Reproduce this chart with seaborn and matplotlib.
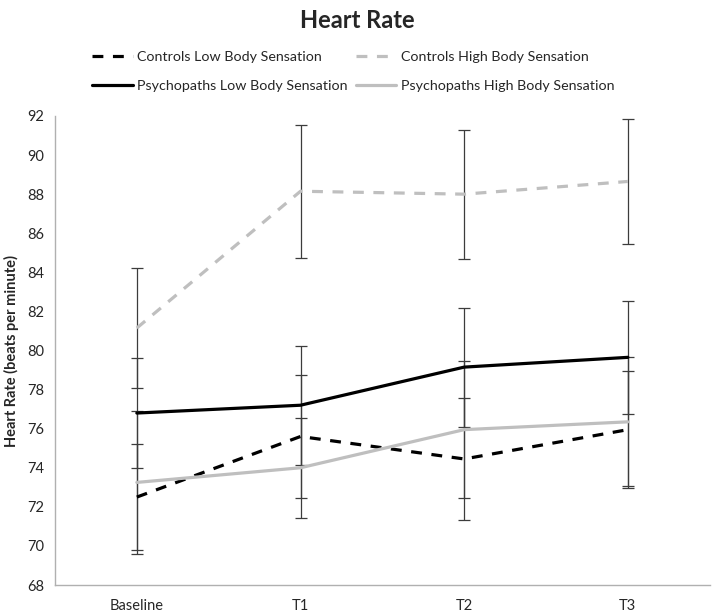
import pandas as pd
import matplotlib
matplotlib.use("Agg")
import matplotlib.pyplot as plt
import seaborn as sns

# time points
TIMES = ["Baseline", "T1", "T2", "T3"]

# group means (beats per minute)
CONTROLS_LOW = [72.5, 75.6, 74.45, 75.95]
CONTROLS_HIGH = [81.15, 88.15, 88.0, 88.65]
PSYCHO_LOW = [76.8, 77.2, 79.15, 79.65]
PSYCHO_HIGH = [73.25, 74.0, 75.95, 76.35]

# error bar half-widths
CONTROLS_LOW_ERR = [2.7, 3.15, 3.1, 3.0]
CONTROLS_HIGH_ERR = [3.05, 3.4, 3.3, 3.2]
PSYCHO_LOW_ERR = [2.8, 3.05, 3.05, 2.9]
PSYCHO_HIGH_ERR = [3.65, 2.55, 3.5, 3.3]

SERIES = [
    ("Controls Low Body Sensation", CONTROLS_LOW, CONTROLS_LOW_ERR),
    ("Controls High Body Sensation", CONTROLS_HIGH, CONTROLS_HIGH_ERR),
    ("Psychopaths Low Body Sensation", PSYCHO_LOW, PSYCHO_LOW_ERR),
    ("Psychopaths High Body Sensation", PSYCHO_HIGH, PSYCHO_HIGH_ERR),
]

# styles per series
PALETTE = {
    "Controls Low Body Sensation": "#000000",
    "Controls High Body Sensation": "#bfbfbf",
    "Psychopaths Low Body Sensation": "#000000",
    "Psychopaths High Body Sensation": "#bfbfbf",
}
DASHES = {
    "Controls Low Body Sensation": (3.4, 3.0),
    "Controls High Body Sensation": (3.4, 3.0),
    "Psychopaths Low Body Sensation": "",
    "Psychopaths High Body Sensation": "",
}

# long-form frame for seaborn
rows = []
for name, vals, errs in SERIES:
    for t, v in zip(TIMES, vals):
        rows.append({"Time": t, "Heart Rate": v, "Group": name})
df = pd.DataFrame(rows)

sns.set_style("white")
plt.rcParams["font.family"] = ["Lato", "DejaVu Sans"]

fig = plt.figure(figsize=(7.14, 6.16), dpi=100)
ax = fig.add_axes([0.077, 0.0503, 0.917, 0.7614])

# error bars first, under the lines
for name, vals, errs in SERIES:
    ax.errorbar(TIMES, vals, yerr=errs, fmt="none", ecolor="#3c3c3c",
                elinewidth=0.9, capsize=4.5, capthick=0.9, zorder=1)

sns.lineplot(data=df, x="Time", y="Heart Rate", hue="Group", style="Group",
             palette=PALETTE, dashes=DASHES, linewidth=2.3, sort=False,
             ax=ax, zorder=2, legend=True)

ax.set_xlim(-0.5, 3.5)
ax.set_ylim(68, 92)
ax.set_yticks(range(68, 93, 2))
ax.tick_params(axis="both", length=0, labelsize=10.5, colors="#262626")
ax.tick_params(axis="x", pad=10)
ax.tick_params(axis="y", pad=8)
ax.set_xlabel("")
ax.set_ylabel("Heart Rate (beats per minute)", fontsize=10.5, fontweight="bold",
              labelpad=6)

for side in ["top", "right"]:
    ax.spines[side].set_visible(False)
for side in ["left", "bottom"]:
    ax.spines[side].set_color("#b0b0b0")
    ax.spines[side].set_linewidth(1.0)

# legend above the plot, filled row by row like the original
handles, labels = ax.get_legend_handles_labels()
order = [0, 2, 1, 3]
ax.legend([handles[i] for i in order], [labels[i] for i in order], ncol=2,
          frameon=False, fontsize=10.3,
          loc="upper left", bbox_to_anchor=(0.129, 0.918),
          bbox_transform=fig.transFigure, handlelength=2.85,
          handletextpad=0.3, columnspacing=0.55, labelspacing=1.25,
          borderaxespad=0, borderpad=0)

fig.suptitle("Heart Rate", fontsize=17, fontweight="bold", y=0.985)

fig.savefig("out.png", dpi=100)
